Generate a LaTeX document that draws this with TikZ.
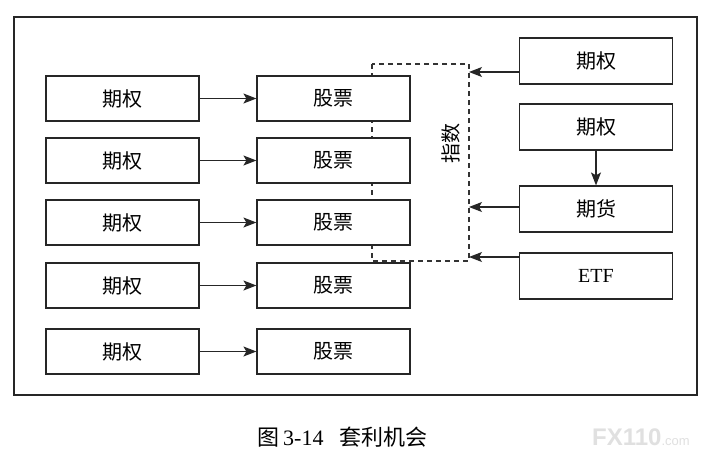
\documentclass[tikz,border=0pt]{standalone}
\usepackage{fontspec}
\setmainfont{Liberation Serif}
\newfontfamily\cjk{Noto Sans CJK SC}
\newfontfamily\wmfont{Liberation Sans}
\usetikzlibrary{arrows.meta}
\begin{document}
\begin{tikzpicture}[x=1pt,y=-1pt,
  box/.style={draw=black!85,line width=1.2pt,fill=white,minimum width=153pt,minimum height=45pt,inner sep=0pt,font=\cjk\fontsize{20}{20}\selectfont},
  arr/.style={draw=black!85,line width=1.1pt,-{Stealth[length=13pt,width=10pt,inset=3pt]}},
  dashline/.style={draw=black!80,line width=1.1pt,dash pattern=on 5pt off 4pt}]
\useasboundingbox (0,0) rectangle (713,466);
\fill[white] (0,0) rectangle (713,466);
\node[draw=black!85,line width=1.2pt,minimum width=683pt,minimum height=378pt,inner sep=0pt] (frame) at (355.5,206) {};
% dashed index rectangle
\coordinate (dTL) at (372,64);
\coordinate (dBR) at (469,261);
\draw[dashline] (dTL) rectangle (dBR);
% left column
\foreach \i/\y in {1/98.5,2/160.5,3/222.5,4/285.5,5/351.5}{
  \node[box] (o\i) at (122.5,\y) {期权};
  \node[box] (s\i) at (333.5,\y) {股票};
  \draw[arr] (o\i) -- (s\i);
}
% right column
\node[box,minimum height=46pt] (ra) at (596,61) {期权};
\node[box,minimum height=46pt] (rb) at (596,127) {期权};
\node[box,minimum height=46pt] (rc) at (596,209) {期货};
\node[box,minimum height=46pt,font=\fontsize{20}{20}\selectfont] (rd) at (596,276) {ETF};
\draw[arr] (rb) -- (rc);
\coordinate (ea) at (469,72);
\coordinate (ec) at (469,207);
\coordinate (ed) at (469,257);
\draw[arr] (ra.west |- ea) -- (ea);
\draw[arr] (rc.west |- ec) -- (ec);
\draw[arr] (rd.west |- ed) -- (ed);
\node[rotate=90,font=\cjk\fontsize{20}{20}\selectfont] (idx) at (451,143) {指数};
% caption
\node[font=\fontsize{22}{22}\selectfont,anchor=west] (cap) at (254,437) {{\cjk 图}\,3-14\hspace{16pt}{\cjk 套利机会}};
\node[font=\wmfont\bfseries\fontsize{24}{24}\selectfont,text=black!12,anchor=west,inner sep=0pt] (wm) at (592,437) {FX110\fontsize{13}{13}\selectfont\mdseries .com};
\end{tikzpicture}
\end{document}
